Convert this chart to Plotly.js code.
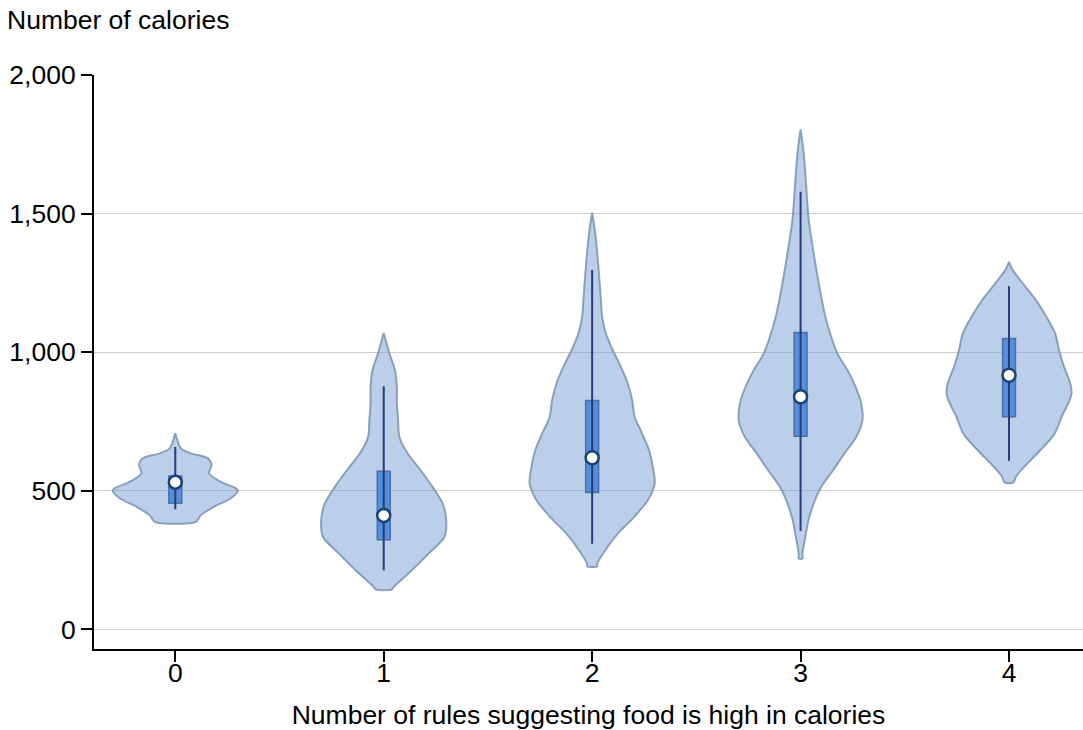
<!DOCTYPE html>
<html>
<head>
<meta charset="utf-8">
<script src="https://cdn.plot.ly/plotly-3.0.1.min.js"></script>
<style>html,body{margin:0;padding:0;background:#fff;}#chart{width:1083px;height:730px;}</style>
</head>
<body>
<div id="chart"></div>
<script>
// Categories: number of rules suggesting food is high in calories
const categories = [0, 1, 2, 3, 4];

// Violin outlines: calorie levels and relative density (0..1)
const levels0 = [388, 412, 442, 473, 499, 509, 533, 563, 593, 617, 635, 653, 707];
const density0 = [0.33, 0.41, 0.62, 0.89, 1.0, 0.97, 0.72, 0.54, 0.58, 0.52, 0.25, 0.09, 0];

const levels1 = [144, 153, 213, 274, 333, 394, 455, 514, 574, 635, 694, 755, 815, 875, 935, 996, 1069];
const density1 = [0.13, 0.16, 0.45, 0.72, 0.97, 1.0, 0.94, 0.78, 0.59, 0.38, 0.25, 0.23, 0.21, 0.21, 0.18, 0.09, 0];

const levels2 = [227, 237, 285, 345, 405, 466, 526, 586, 646, 706, 766, 827, 887, 947, 1007, 1067, 1127, 1188, 1308, 1428, 1503];
const density2 = [0.08, 0.08, 0.21, 0.41, 0.67, 0.89, 1.0, 0.97, 0.91, 0.80, 0.68, 0.64, 0.57, 0.46, 0.33, 0.22, 0.16, 0.14, 0.10, 0.05, 0];

const levels3 = [255, 273, 333, 393, 454, 514, 574, 634, 694, 755, 815, 875, 935, 995, 1116, 1236, 1356, 1477, 1597, 1717, 1804];
const density3 = [0.03, 0.03, 0.075, 0.125, 0.21, 0.33, 0.52, 0.70, 0.89, 0.99, 0.97, 0.88, 0.75, 0.59, 0.41, 0.30, 0.21, 0.13, 0.09, 0.05, 0];

const levels4 = [530, 550, 586, 646, 706, 766, 827, 851, 887, 947, 1007, 1067, 1127, 1188, 1248, 1296, 1326];
const density4 = [0.07, 0.11, 0.24, 0.50, 0.73, 0.84, 0.97, 1.0, 0.98, 0.88, 0.80, 0.74, 0.60, 0.43, 0.22, 0.06, 0];

// Box statistics
const q1 = [455, 323, 494, 697, 767];
const median = [531, 411, 619, 839, 917];
const q3 = [553, 570, 826, 1071, 1049];
const whiskerLow = [433, 213, 309, 355, 608];
const whiskerHigh = [658, 877, 1296, 1579, 1238];

// Tick labels
const yTickVals = [0, 500, 1000, 1500, 2000];
const yTickText = ["0", "500", "1,000", "1,500", "2,000"];

const allLevels = [levels0, levels1, levels2, levels3, levels4];
const allDensity = [density0, density1, density2, density3, density4];

const maxHalf = 0.3;   // half-width of widest violin, category units
const boxWidth = 0.062;

const traces = [];
categories.forEach((c, i) => {
  const lv = allLevels[i], dn = allDensity[i];
  const xs = [], ys = [];
  for (let k = 0; k < lv.length; k++) { xs.push(c + dn[k] * maxHalf); ys.push(lv[k]); }
  for (let k = lv.length - 1; k >= 0; k--) { xs.push(c - dn[k] * maxHalf); ys.push(lv[k]); }
  xs.push(xs[0]); ys.push(ys[0]);
  traces.push({
    type: 'scatter', mode: 'lines', x: xs, y: ys,
    fill: 'toself', fillcolor: 'rgba(120,160,216,0.5)',
    line: {color: 'rgba(122,148,176,0.85)', width: 2, shape: 'spline', smoothing: 0.8},
    hoverinfo: 'skip', showlegend: false
  });
});

// whiskers
const wx = [], wy = [];
categories.forEach((c, i) => { wx.push(c, c, null); wy.push(whiskerLow[i], whiskerHigh[i], null); });
traces.push({type: 'scatter', mode: 'lines', x: wx, y: wy,
  line: {color: '#2b3a78', width: 2}, showlegend: false, hoverinfo: 'skip'});

// boxes
traces.push({type: 'bar', x: categories, base: q1, y: q3.map((v, i) => v - q1[i]),
  width: boxWidth, marker: {color: '#2e7fe2', line: {color: '#1a4272', width: 1.5}},
  showlegend: false, hoverinfo: 'skip'});

// medians
traces.push({type: 'scatter', mode: 'markers', x: categories, y: median,
  marker: {color: '#ffffff', size: 13, line: {color: '#1a4272', width: 2.5}},
  showlegend: false, hoverinfo: 'skip'});

const font = {family: 'Liberation Sans, Arial, Helvetica, sans-serif', size: 26.5, color: '#000'};

const layout = {
  width: 1083, height: 730,
  margin: {l: 94, r: 0, t: 75, b: 81, pad: 0},
  paper_bgcolor: '#fff', plot_bgcolor: '#fff',
  font: font,
  showlegend: false,
  xaxis: {
    range: [-0.39, 4.355], tickvals: categories, ticktext: categories.map(String),
    showgrid: false, zeroline: false,
    showline: true, linecolor: '#000', linewidth: 2,
    ticks: 'outside', ticklen: 11, tickwidth: 2, tickcolor: '#000',
    ticklabelstandoff: -12,
    tickfont: font,
    title: {text: 'Number of rules suggesting food is high in calories', font: font, standoff: 21}
  },
  yaxis: {
    range: [-71, 2000], tickvals: yTickVals, ticktext: yTickText,
    showgrid: true, gridcolor: '#cccccc', gridwidth: 1, zeroline: false,
    showline: true, linecolor: '#000', linewidth: 2,
    ticks: 'outside', ticklen: 11, tickwidth: 2, tickcolor: '#000',
    tickfont: font
  },
  annotations: [{
    text: 'Number of calories', xref: 'paper', yref: 'paper',
    x: (5 - 94) / 989, y: 1 + 55 / 574, xanchor: 'left', yanchor: 'middle',
    showarrow: false, font: font
  }]
};

Plotly.newPlot('chart', traces, layout, {displayModeBar: false, staticPlot: true});
</script>
</body>
</html>
